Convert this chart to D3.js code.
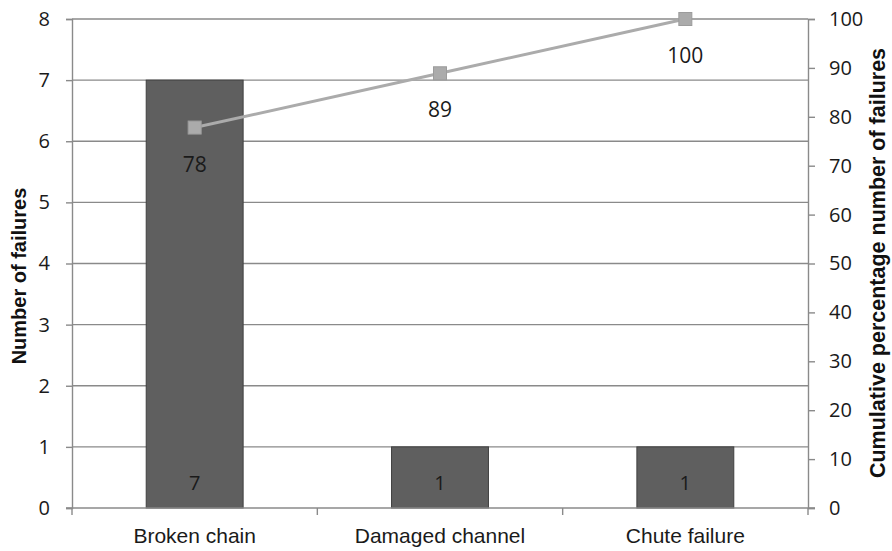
<!DOCTYPE html>
<html><head><meta charset="utf-8">
<script src="https://cdn.jsdelivr.net/npm/d3@7"></script>
<style>body{margin:0;background:#fff}</style>
</head><body>
<svg id="c" width="892" height="551"></svg>
<script>
const categories = ["Broken chain", "Damaged channel", "Chute failure"];
const failures = [7, 1, 1];
const cumulative = [77.8, 88.9, 100];
const cumulativeLabels = ["78", "89", "100"];
const leftTicks = [0,1,2,3,4,5,6,7,8];
const rightTicks = [0,10,20,30,40,50,60,70,80,90,100];

const svg = d3.select("#c");
const L = 72, R = 808, T = 19, B = 508;
const x = d3.scaleBand().domain(categories).range([L, R]).paddingInner(0.605).paddingOuter(0.3025);
const y = d3.scaleLinear().domain([0, 8]).range([B, T]);
const y2 = d3.scaleLinear().domain([0, 100]).range([B, T]);
const tickFont = "'Open Sans', 'Noto Sans', sans-serif";
const arial = "'Liberation Sans', Arial, sans-serif";
const gridCol = "#8a8a8a";

// gridlines
svg.append("g").selectAll("line").data(leftTicks.filter(d => d > 0)).join("line")
  .attr("x1", L).attr("x2", R).attr("y1", d => y(d)).attr("y2", d => y(d))
  .attr("stroke", gridCol).attr("stroke-width", 1.4);

// bars
svg.append("g").selectAll("rect").data(categories).join("rect")
  .attr("x", d => x(d)).attr("width", x.bandwidth())
  .attr("y", (d, i) => y(failures[i])).attr("height", (d, i) => B - y(failures[i]))
  .attr("fill", "#5f5f5f").attr("stroke", "#404040").attr("stroke-width", 1);

// bar labels
svg.append("g").selectAll("text").data(categories).join("text")
  .attr("x", d => x(d) + x.bandwidth() / 2).attr("y", B - 18)
  .attr("text-anchor", "middle").attr("font-family", tickFont).attr("font-size", 20)
  .attr("fill", "#1a1a1a").text((d, i) => failures[i]);

// left axis
const la = svg.append("g").attr("transform", `translate(${L},0)`)
  .call(d3.axisLeft(y).tickValues(leftTicks).tickSize(6).tickPadding(16).tickFormat(d3.format("d")));
la.select(".domain").attr("stroke", gridCol).attr("stroke-width", 1.4);
la.selectAll(".tick line").attr("stroke", gridCol).attr("stroke-width", 1.4);
la.selectAll(".tick text").attr("font-family", tickFont).attr("font-size", 20).attr("fill", "#1a1a1a");

// right axis
const ra = svg.append("g").attr("transform", `translate(${R},0)`)
  .call(d3.axisRight(y2).tickValues(rightTicks).tickSize(7).tickPadding(14).tickFormat(d3.format("d")));
ra.select(".domain").attr("stroke", gridCol).attr("stroke-width", 1.4);
ra.selectAll(".tick line").attr("stroke", gridCol).attr("stroke-width", 1.4);
ra.selectAll(".tick text").attr("font-family", tickFont).attr("font-size", 20).attr("fill", "#1a1a1a");

// bottom axis
const xo = d3.scalePoint().domain([0,1,2,3]).range([L, R]);
svg.append("g").selectAll("line").data([0,1,2,3]).join("line")
  .attr("x1", d => xo(d)).attr("x2", d => xo(d)).attr("y1", B).attr("y2", B + 7)
  .attr("stroke", gridCol).attr("stroke-width", 1.4);
svg.append("line").attr("x1", L - 6).attr("x2", R + 7).attr("y1", B).attr("y2", B)
  .attr("stroke", gridCol).attr("stroke-width", 1.4);
svg.append("g").selectAll("text").data(categories).join("text")
  .attr("x", d => x(d) + x.bandwidth() / 2).attr("y", 543)
  .attr("text-anchor", "middle").attr("font-family", arial)
  .attr("font-size", 21).attr("fill", "#1a1a1a").text(d => d);

// cumulative line
const cx = d => x(d) + x.bandwidth() / 2;
svg.append("path").datum(categories)
  .attr("d", d3.line().x(d => cx(d)).y((d, i) => y2(cumulative[i])))
  .attr("fill", "none").attr("stroke", "#ababab").attr("stroke-width", 3);
svg.append("g").selectAll("rect").data(categories).join("rect")
  .attr("x", d => cx(d) - 6.5).attr("y", (d, i) => y2(cumulative[i]) - 6.5)
  .attr("width", 13).attr("height", 13).attr("fill", "#ababab").attr("stroke", "#9c9c9c");
svg.append("g").selectAll("text").data(categories).join("text")
  .attr("x", d => cx(d)).attr("y", (d, i) => y2(cumulative[i]) + 44)
  .attr("text-anchor", "middle").attr("font-family", tickFont).attr("font-size", 21)
  .attr("fill", "#1a1a1a").text((d, i) => cumulativeLabels[i]);

// axis titles
svg.append("text").attr("transform", "translate(26,276) rotate(-90)")
  .attr("text-anchor", "middle").attr("font-family", arial)
  .attr("font-weight", "bold").attr("font-size", 20).attr("fill", "#111").text("Number of failures");
svg.append("text").attr("transform", "translate(885,263) rotate(-90)")
  .attr("text-anchor", "middle").attr("font-family", arial)
  .attr("font-weight", "bold").attr("font-size", 21.5).attr("fill", "#111").text("Cumulative percentage number of failures");
</script>
</body></html>
